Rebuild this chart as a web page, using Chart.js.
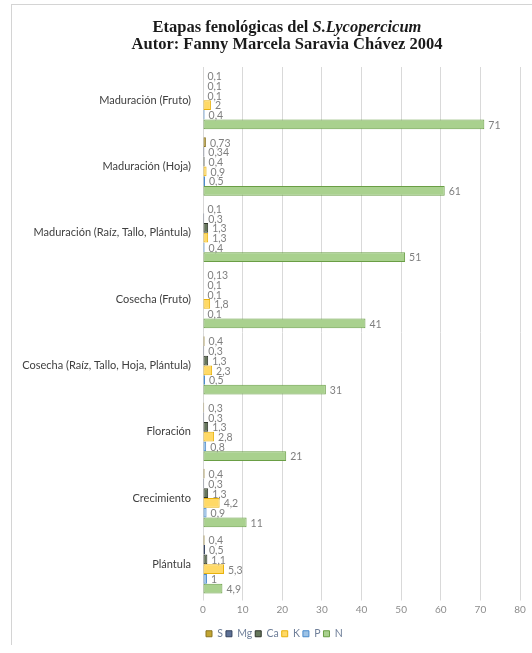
<!DOCTYPE html>
<html>
<head>
<meta charset="utf-8">
<script src="https://cdn.jsdelivr.net/npm/chart.js@4/dist/chart.umd.min.js"></script>
<style>
  html, body { margin: 0; padding: 0; background: #ffffff; }
  #wrap { position: relative; width: 532px; height: 653px; overflow: hidden; }
  #frame { position: absolute; left: 11px; top: 4px; width: 600px; height: 640px;
           border-left: 1px solid #d4d4d4; border-top: 1px solid #d4d4d4; }
  canvas { position: absolute; left: 0; top: 0; }
</style>
</head>
<body>
<div id="wrap">
  <div id="frame"></div>
  <canvas id="chart" width="532" height="653"></canvas>
</div>
<script>
// Growth stages (top to bottom)
const stages = [
  'Maduración (Fruto)',
  'Maduración (Hoja)',
  'Maduración (Raíz, Tallo, Plántula)',
  'Cosecha (Fruto)',
  'Cosecha (Raíz, Tallo, Hoja, Plántula)',
  'Floración',
  'Crecimiento',
  'Plántula'
];

// Nutrient series, one value per stage
const S  = [0.1, 0.73, 0.1, 0.13, 0.4, 0.3, 0.4, 0.4];
const Mg = [0.1, 0.34, 0.3, 0.1, 0.3, 0.3, 0.3, 0.5];
const Ca = [0.1, 0.4, 1.3, 0.1, 1.3, 1.3, 1.3, 1.1];
const K  = [2, 0.9, 1.3, 1.8, 2.3, 2.8, 4.2, 5.3];
const P  = [0.4, 0.5, 0.4, 0.1, 0.5, 0.8, 0.9, 1];
const N  = [71, 61, 51, 41, 31, 21, 11, 4.9];

const xTicks = [0, 10, 20, 30, 40, 50, 60, 70, 80];

const series = [
  { label: 'S',  data: S,  fill: '#C2A532', edge: '#8A7420' },
  { label: 'Mg', data: Mg, fill: '#5D7096', edge: '#34425E' },
  { label: 'Ca', data: Ca, fill: '#66775C', edge: '#2F352B' },
  { label: 'K',  data: K,  fill: '#FFD966', edge: '#E8B20C' },
  { label: 'P',  data: P,  fill: '#9DC3E6', edge: '#4A8ACB' },
  { label: 'N',  data: N,  fill: '#A9D18E', edge: '#6A9E45' }
];

const fmt = v => String(v).replace('.', ',');

// Two-line heading, with the species name in italics
const headingPlugin = {
  id: 'heading',
  afterDraw(chart) {
    const ctx = chart.ctx;
    const cx = 287;
    ctx.save();
    ctx.fillStyle = '#1a1a1a';
    ctx.textBaseline = 'middle';
    const bold = 'bold 16.5px "Liberation Serif", "Times New Roman", serif';
    const boldIt = 'italic bold 16.5px "Liberation Serif", "Times New Roman", serif';
    const a = 'Etapas fenológicas del ';
    const b = 'S.Lycopercicum';
    ctx.font = bold;
    const wa = ctx.measureText(a).width;
    ctx.font = boldIt;
    const wb = ctx.measureText(b).width;
    const x0 = cx - (wa + wb) / 2;
    ctx.textAlign = 'left';
    ctx.font = bold;
    ctx.fillText(a, x0, 28);
    ctx.font = boldIt;
    ctx.fillText(b, x0 + wa, 28);
    ctx.font = bold;
    ctx.textAlign = 'center';
    ctx.fillText('Autor: Fanny Marcela Saravia Chávez 2004', cx, 45);
    ctx.restore();
  }
};

// Value labels at the end of each bar
const valueLabels = {
  id: 'valueLabels',
  afterDatasetsDraw(chart) {
    const ctx = chart.ctx;
    ctx.save();
    ctx.font = '10.5px Lato, "Liberation Sans", sans-serif';
    ctx.fillStyle = '#7f7f7f';
    ctx.textAlign = 'left';
    ctx.textBaseline = 'middle';
    chart.data.datasets.forEach((ds, i) => {
      const meta = chart.getDatasetMeta(i);
      meta.data.forEach((bar, j) => {
        ctx.fillText(fmt(ds.data[j]), bar.x + 4, bar.y + 1);
      });
    });
    ctx.restore();
  }
};

new Chart(document.getElementById('chart'), {
  type: 'bar',
  data: {
    labels: stages,
    datasets: series.map(s => ({
      label: s.label,
      data: s.data,
      backgroundColor: s.fill,
      borderColor: s.edge,
      borderWidth: 1,
      borderSkipped: false,
      barPercentage: 1.0,
      categoryPercentage: 0.88
    }))
  },
  options: {
    indexAxis: 'y',
    responsive: false,
    animation: false,
    layout: { padding: { top: 67, left: 11, right: 12, bottom: 4 } },
    scales: {
      x: {
        min: 0,
        max: 80,
        afterBuildTicks(scale) { scale.ticks = xTicks.map(v => ({ value: v })); },
        afterFit(scale) { scale.height += 7; },
        grid: { color: '#d9d9d9', lineWidth: 1, drawTicks: true, tickLength: 3, tickColor: '#d9d9d9' },
        border: { display: false },
        ticks: {
          color: '#8c8c8c',
          font: { family: 'Lato, "Liberation Sans", sans-serif', size: 10 },
          padding: 3
        }
      },
      y: {
        afterFit(scale) { scale.width = 192; },
        grid: { display: false },
        border: { display: true, color: '#d9d9d9' },
        ticks: {
          color: '#404040',
          font: { family: 'Lato, "Liberation Sans", sans-serif', size: 11 },
          padding: 4
        }
      }
    },
    plugins: {
      legend: {
        position: 'bottom',
        align: 'start',
        fullSize: false,
        labels: {
          boxWidth: 6,
          boxHeight: 6,
          padding: 3,
          color: '#6f7f99',
          font: { family: 'Lato, "Liberation Sans", sans-serif', size: 10.5 },
          generateLabels(chart) {
            return chart.data.datasets.map((ds, i) => ({
              text: ds.label,
              fillStyle: ds.backgroundColor,
              strokeStyle: ds.borderColor,
              lineWidth: 1,
              datasetIndex: i,
              fontColor: '#6f7f99'
            }));
          }
        }
      },
      title: { display: false },
      tooltip: { enabled: false }
    }
  },
  plugins: [headingPlugin, valueLabels]
});
</script>
</body>
</html>
